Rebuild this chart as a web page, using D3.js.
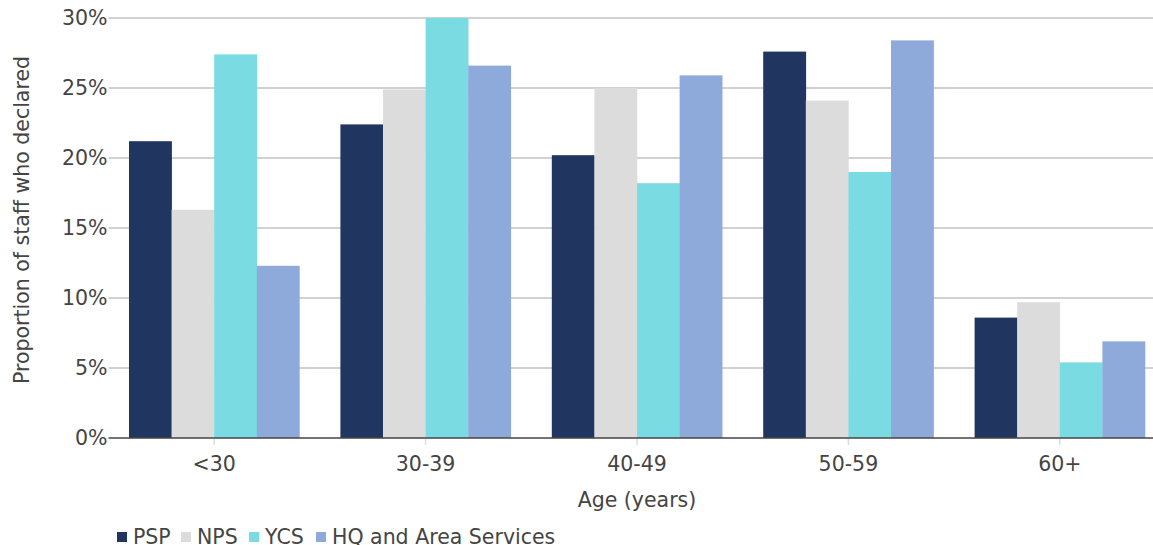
<!DOCTYPE html>
<html>
<head>
<meta charset="utf-8">
<script src="https://cdn.jsdelivr.net/npm/d3@7"></script>
<style>
  body { margin: 0; background: #fff; overflow: hidden; }
  text { font-family: "DejaVu Sans", sans-serif; fill: #444; }
</style>
</head>
<body>
<div id="vis"></div>
<script>
// frame
const FRAME_WIDTH = 1153;
const FRAME_HEIGHT = 545;
const MARGINS = {left: 108.5, top: 18, bottom: 107};

// data
const ageGroups = ["<30", "30-39", "40-49", "50-59", "60+"];
const seriesNames = ["PSP", "NPS", "YCS", "HQ and Area Services"];
const psp = [21.2, 22.4, 20.2, 27.6, 8.6];
const nps = [16.3, 24.9, 25.0, 24.1, 9.7];
const ycs = [27.4, 30.0, 18.2, 19.0, 5.4];
const hq = [12.3, 26.6, 25.9, 28.4, 6.9];
const yTicks = [0, 5, 10, 15, 20, 25, 30];
const colors = ["#203560", "#dcdcdc", "#7adbe2", "#8eaadb"];

const allSeries = [psp, nps, ycs, hq];
const VIS_HEIGHT = FRAME_HEIGHT - MARGINS.top - MARGINS.bottom;
const BAND = 211.4;
const FONT = "20.5px";

const svg = d3.select("#vis").append("svg")
    .attr("width", FRAME_WIDTH)
    .attr("height", FRAME_HEIGHT);

const X_SCALE = d3.scaleBand()
    .domain(ageGroups)
    .range([MARGINS.left, MARGINS.left + BAND * ageGroups.length])
    .paddingInner(0.194)
    .paddingOuter(0.097);

const X_INNER = d3.scaleBand()
    .domain(seriesNames)
    .range([0, X_SCALE.bandwidth()]);

const Y_SCALE = d3.scaleLinear()
    .domain([0, 30])
    .range([MARGINS.top + VIS_HEIGHT, MARGINS.top]);

// gridlines
svg.append("g")
    .selectAll("line")
    .data(yTicks.filter(d => d > 0))
    .enter()
    .append("line")
      .attr("x1", MARGINS.left)
      .attr("x2", FRAME_WIDTH)
      .attr("y1", d => Y_SCALE(d))
      .attr("y2", d => Y_SCALE(d))
      .attr("stroke", "#c2c2c2")
      .attr("stroke-width", 1.4);

// y tick labels
svg.append("g")
    .selectAll("text")
    .data(yTicks)
    .enter()
    .append("text")
      .attr("x", MARGINS.left - 1)
      .attr("y", d => Y_SCALE(d))
      .attr("dy", "0.35em")
      .attr("text-anchor", "end")
      .attr("font-size", FONT)
      .text(d => d + "%");

// bars
const groups = svg.append("g")
    .selectAll("g")
    .data(ageGroups)
    .enter()
    .append("g")
      .attr("transform", d => "translate(" + X_SCALE(d) + ",0)");

groups.selectAll("rect")
    .data((d, i) => allSeries.map((s, j) => ({name: seriesNames[j], value: s[i], color: colors[j]})))
    .enter()
    .append("rect")
      .attr("x", d => X_INNER(d.name))
      .attr("width", X_INNER.bandwidth() + 0.3)
      .attr("y", d => Y_SCALE(d.value))
      .attr("height", d => Y_SCALE(0) - Y_SCALE(d.value))
      .attr("fill", d => d.color);

// x axis baseline and ticks
const base = Y_SCALE(0);
svg.append("line")
    .attr("x1", MARGINS.left)
    .attr("x2", FRAME_WIDTH)
    .attr("y1", base)
    .attr("y2", base)
    .attr("stroke", "#444")
    .attr("stroke-width", 1.3);

svg.append("g")
    .selectAll("line")
    .data(ageGroups)
    .enter()
    .append("line")
      .attr("x1", d => X_SCALE(d) + X_SCALE.bandwidth() / 2)
      .attr("x2", d => X_SCALE(d) + X_SCALE.bandwidth() / 2)
      .attr("y1", base + 1)
      .attr("y2", base + 7)
      .attr("stroke", "#ddd")
      .attr("stroke-width", 1.5);

svg.append("g")
    .selectAll("text")
    .data(ageGroups)
    .enter()
    .append("text")
      .attr("x", d => X_SCALE(d) + X_SCALE.bandwidth() / 2)
      .attr("y", base + 33)
      .attr("text-anchor", "middle")
      .attr("font-size", FONT)
      .text(d => d);

// axis titles
svg.append("text")
    .attr("x", 637)
    .attr("y", 507)
    .attr("text-anchor", "middle")
    .attr("font-size", FONT)
    .text("Age (years)");

svg.append("text")
    .attr("transform", "translate(29,220) rotate(-90)")
    .attr("text-anchor", "middle")
    .attr("font-size", FONT)
    .text("Proportion of staff who declared");

// legend
const legendX = [117, 181, 249, 316];
const legend = svg.append("g")
    .selectAll("g")
    .data(seriesNames)
    .enter()
    .append("g")
      .attr("transform", (d, i) => "translate(" + legendX[i] + ",532)");

legend.append("rect")
    .attr("width", 10)
    .attr("height", 10)
    .attr("fill", (d, i) => colors[i]);

legend.append("text")
    .attr("x", 16)
    .attr("y", 12)
    .attr("font-size", FONT)
    .text(d => d);
</script>
</body>
</html>
